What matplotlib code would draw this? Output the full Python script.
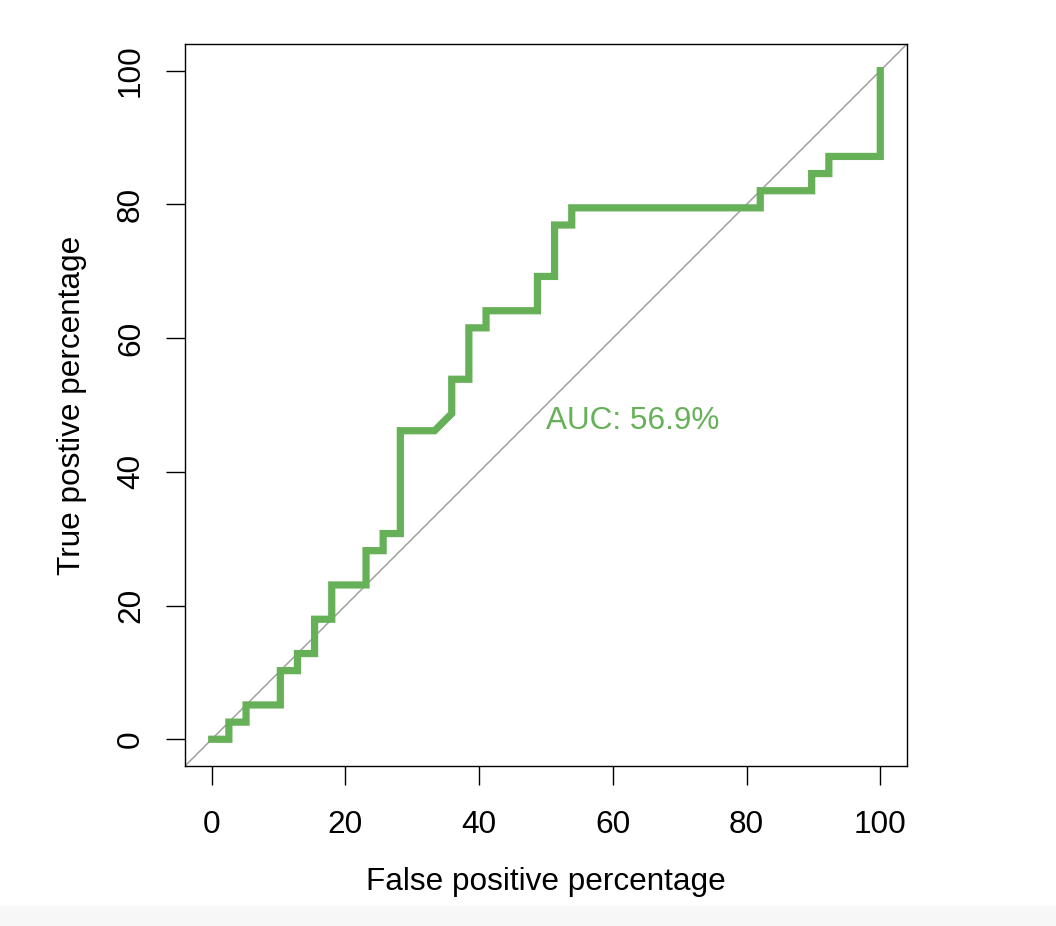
import numpy as np
import matplotlib.pyplot as plt
from matplotlib.patches import Rectangle

# ROC curve vertices (percent)
fpr = [0, 2.56, 2.56, 5.13, 5.13, 10.26, 10.26, 12.82, 12.82, 15.38, 15.38,
       17.95, 17.95, 23.08, 23.08, 25.64, 25.64, 28.21, 28.21, 33.33, 35.90,
       35.90, 38.46, 38.46, 41.03, 41.03, 48.72, 48.72, 51.28, 51.28, 53.85,
       53.85, 82.05, 82.05, 89.74, 89.74, 92.31, 92.31, 100, 100]
tpr = [0, 0, 2.56, 2.56, 5.13, 5.13, 10.26, 10.26, 12.82, 12.82, 17.95,
       17.95, 23.08, 23.08, 28.21, 28.21, 30.77, 30.77, 46.15, 46.15, 48.72,
       53.85, 53.85, 61.54, 61.54, 64.10, 64.10, 69.23, 69.23, 76.92, 76.92,
       79.49, 79.49, 82.05, 82.05, 84.62, 84.62, 87.18, 87.18, 100]
auc_label = "AUC: 56.9%"
ticks = [0, 20, 40, 60, 80, 100]

plt.rcParams['font.family'] = ['Liberation Sans', 'DejaVu Sans']
fs = 22.7

fig = plt.figure(figsize=(10.56, 9.26), dpi=100)
ax = fig.add_axes([0.1752, 0.1728, 0.6837, 0.7797])

ax.set_xlim(-4, 104)
ax.set_ylim(-4, 104)
ax.plot([-4, 104], [-4, 104], color='#a0a0a0', lw=1.1, zorder=1)
ax.plot(fpr, tpr, color='#66b058', lw=5.2, solid_joinstyle='miter', zorder=2)
ax.text(50, 47.6, auc_label, color='#66b058', fontsize=fs, ha='left', va='center')

ax.set_xticks(ticks)
ax.set_yticks(ticks)
ax.tick_params(direction='out', length=14, width=1, labelsize=fs, pad=14)
ax.tick_params(axis='x', pad=18)
for lab in ax.get_yticklabels():
    lab.set_rotation(90)
    lab.set_va('center')
ax.set_xlabel('False positive percentage', fontsize=fs, va='center')
ax.set_ylabel('True postive percentage', fontsize=fs, va='center')
ax.xaxis.set_label_coords(0.5, (766 - 882) / 722)
ax.yaxis.set_label_coords((72 - 185) / 722, 0.5)
for s in ax.spines.values():
    s.set_linewidth(1)

# faint band at bottom of screenshot
fig.patches.append(Rectangle((0, 0), 1, 20 / 926, transform=fig.transFigure,
                             color='#f7f7f7', zorder=0))

fig.savefig('out.png', dpi=100)
